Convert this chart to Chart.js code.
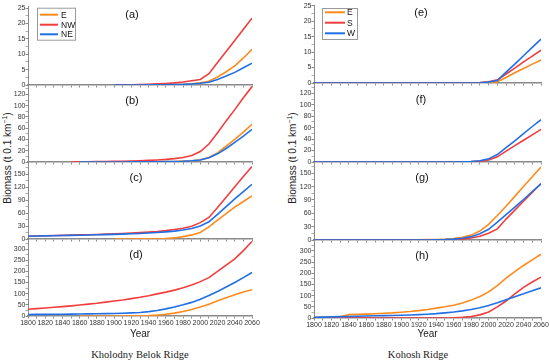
<!DOCTYPE html>
<html>
<head>
<meta charset="utf-8">
<script src="https://cdn.jsdelivr.net/npm/chart.js@4.4.0/dist/chart.umd.min.js"></script>
<style>
body { margin: 0; background: #fff; width: 550px; height: 363px; overflow: hidden; position: relative; font-family: Arial, "Liberation Sans", sans-serif; }
canvas { position: absolute; }
.ytitle { position: absolute; transform: translate(-50%, -50%) rotate(-90deg); font-size: 10px; white-space: nowrap; color: #222; }
.ridge { position: absolute; transform: translateX(-50%); top: 349px; font-family: "Liberation Serif", serif; font-size: 10.5px; white-space: nowrap; color: #222; }
</style>
</head>
<body>
<div class="ytitle" style="left:7px;top:158px">Biomass (t 0.1 km<sup style="font-size:7px">−1</sup>)</div>
<div class="ytitle" style="left:292px;top:158px">Biomass (t 0.1 km<sup style="font-size:7px">−1</sup>)</div>
<div class="ridge" style="left:140px">Kholodny Belok Ridge</div>
<div class="ridge" style="left:418px">Kohosh Ridge</div>
<script>
// years of the simulated series (10 year step)
const years = [1800, 1810, 1820, 1830, 1840, 1850, 1860, 1870, 1880, 1890,
               1900, 1910, 1920, 1930, 1940, 1950, 1960, 1970, 1980, 1990,
               2000, 2010, 2020, 2030, 2040, 2050, 2060];
const yearLabels = [1800, 1820, 1840, 1860, 1880, 1900, 1920, 1940, 1960, 1980, 2000, 2020, 2040, 2060];

const ticks25 = [0, 5, 10, 15, 20, 25];
const ticks120 = [0, 20, 40, 60, 80, 100, 120];
const ticks150 = [0, 30, 60, 90, 120, 150];
const ticks300 = [0, 50, 100, 150, 200, 250, 300];

// Kholodny Belok Ridge
const aE  = [null, null, null, null, null, null, null, null, null, null, 0, 0, 0, 0, 0, 0.05, 0.1, 0.15, 0.25, 0.4, 0.7, 1.2, 2.6, 4.3, 6.2, 8.8, 11.6];
const aNW = [null, null, null, null, null, null, null, null, null, null, 0, 0.05, 0.1, 0.15, 0.25, 0.35, 0.5, 0.7, 1.0, 1.4, 1.8, 3.7, 7.3, 10.9, 14.5, 18.1, 21.7];
const aNE = [null, null, null, null, null, null, null, null, null, null, 0, 0, 0, 0.02, 0.03, 0.05, 0.08, 0.12, 0.2, 0.35, 0.55, 0.9, 1.8, 2.9, 4.1, 5.6, 7.1];

const bE  = [null, null, null, null, null, null, 0, 0, 0, 0.05, 0.1, 0.15, 0.2, 0.3, 0.4, 0.5, 0.7, 1.0, 1.5, 2.3, 4, 8, 16, 28, 40, 53, 67];
const bNW = [null, null, null, null, null, 0, 0.2, 0.4, 0.6, 0.8, 1.1, 1.4, 1.8, 2.3, 2.9, 3.6, 4.6, 6, 8, 11.5, 18.5, 32, 52, 73, 93, 114, 134];
const bNE = [null, null, null, null, null, null, 0, 0, 0, 0.05, 0.1, 0.13, 0.17, 0.25, 0.3, 0.4, 0.6, 0.9, 1.3, 2.1, 3.6, 7.5, 14.5, 24, 35, 46, 58];

const cE  = [null, null, null, null, null, null, null, null, null, null, 0, 0, 0.1, 0.2, 0.3, 0.5, 1, 2.5, 5.5, 9.5, 15, 28, 44, 59, 74, 87, 100];
const cNW = [6.5, 7, 7.5, 8, 8.5, 9, 9.5, 10, 10.6, 11.3, 12, 12.8, 13.7, 14.7, 16, 17.5, 19.5, 22, 25, 29.5, 38, 50, 73, 97, 121, 145, 168];
const cNE = [6.3, 6.8, 7.2, 7.6, 8, 8.4, 8.8, 9.2, 9.7, 10.2, 10.8, 11.4, 12.1, 12.9, 13.9, 15, 16.5, 18.3, 20.8, 24.5, 30, 40, 57, 75, 93, 110, 127];

const dE  = [null, null, null, null, null, null, 0, 0, 0, 0, 0, 0.2, 0.5, 1, 2, 4, 8, 13, 20, 29, 40, 53, 68, 82, 95, 108, 118];
const dNW = [30, 33, 36, 39, 42, 45.5, 49, 53, 57, 62, 67, 72, 78, 84, 91, 99, 107, 116, 127, 139, 154, 172, 200, 228, 256, 293, 334];
const dNE = [7, 7.2, 7.5, 7.8, 8.1, 8.5, 9, 9.5, 10, 10.7, 11.5, 12.5, 14, 16, 19.5, 25, 32, 40, 50, 61, 75, 92, 110, 130, 150, 172, 195];

// Kohosh Ridge
const eE = [0, 0, 0, 0, 0, 0, 0, 0, 0, 0, 0, 0, 0, 0, 0, 0, 0, 0, 0, 0, 0.2, 0.4, 1.8, 3.3, 4.7, 6.1, 7.4];
const eS = [0, 0, 0, 0, 0, 0, 0, 0, 0, 0, 0, 0, 0, 0, 0, 0, 0, 0, 0.05, 0.15, 0.4, 1.0, 2.9, 4.8, 6.8, 8.7, 10.6];
const eW = [0, 0, 0, 0, 0, 0, 0, 0, 0, 0, 0, 0, 0, 0, 0, 0, 0, 0, 0, 0.1, 0.3, 0.8, 3.5, 6.1, 8.8, 11.5, 14.2];

const fS = [0, 0, 0, 0, 0, 0, 0, 0, 0, 0, 0, 0, 0, 0, 0, 0, 0.1, 0.3, 0.7, 1.5, 3.5, 9, 19, 28.5, 38, 47.5, 57];
const fW = [0, 0, 0, 0, 0, 0, 0, 0, 0, 0, 0, 0, 0, 0, 0, 0, 0.1, 0.4, 1, 2.3, 5.5, 13, 25, 37, 49.5, 62, 74];

const gE = [0, 0, 0, 0, 0, 0, 0, 0, 0, 0, 0.2, 0.3, 0.5, 0.8, 1.2, 2, 3.5, 6, 11, 20, 35, 55, 76, 98, 120, 142, 164];
const gS = [0, 0, 0, 0, 0, 0, 0, 0, 0, 0, 0, 0, 0, 0, 0, 0.5, 1, 2, 4.5, 8.5, 15, 25, 47, 67, 87, 107, 127];
const gW = [0, 0, 0, 0, 0, 0, 0, 0, 0, 0, 0, 0, 0, 0, 0.5, 1, 2, 4, 7.5, 14, 24, 40, 57, 74, 91, 109, 126];

const hE = [3, 3.5, 4, 5, 15, 16, 17.5, 19, 21, 23, 26, 29, 33, 38, 44, 50, 57, 67, 80, 96, 117, 145, 178, 207, 235, 260, 285];
const hS = [0, 0, 0, 0, 0, 0, 0, 0, 0, 0, 0, 0, 0, 0, 0, 0, 1, 3, 7, 14, 27, 50, 76, 108, 137, 161, 183];
const hW = [3, 4, 5, 6, 7, 8, 9, 9.8, 10.6, 11.5, 12.5, 13.7, 15, 17, 19.5, 23, 27, 32, 38, 46, 56, 68, 82, 95, 108, 122, 135];

const ORANGE = '#ff8a1c';
const RED = '#f23d3d';
const BLUE = '#1f70e6';
const AXIS = '#8a8a8a';

function series(label, values, color, order) {
    return {
        label: label,
        data: years.map((x, i) => ({ x: x, y: values[i] })),
        borderColor: color,
        backgroundColor: color,
        borderWidth: 1.6,
        pointRadius: 0,
        tension: 0,
        order: order
    };
}

// panel letter + optional legend box, drawn relative to the plot area
const panelDeco = {
    id: 'panelDeco',
    afterDatasetsDraw(chart, args, opts) {
        const ctx = chart.ctx;
        const { left, top } = chart.chartArea;
        ctx.save();
        ctx.font = '11px Arial';
        ctx.fillStyle = '#111';
        ctx.textAlign = 'center';
        ctx.textBaseline = 'middle';
        ctx.fillText(opts.tag, left + opts.tagX, top + opts.tagY);
        if (opts.legend) {
            const L = opts.legend;
            ctx.fillStyle = '#fff';
            ctx.fillRect(left + L.x, top + L.y, L.w, L.h);
            ctx.strokeStyle = '#9a9a9a';
            ctx.lineWidth = 1;
            ctx.strokeRect(left + L.x + 0.5, top + L.y + 0.5, L.w, L.h);
            ctx.font = '8.5px Arial';
            ctx.textAlign = 'left';
            chart.data.datasets.forEach((ds, i) => {
                const y = top + L.rows[i];
                ctx.strokeStyle = ds.borderColor;
                ctx.lineWidth = 2;
                ctx.beginPath();
                ctx.moveTo(left + L.x1, y);
                ctx.lineTo(left + L.x2, y);
                ctx.stroke();
                ctx.fillStyle = '#111';
                ctx.fillText(ds.label, left + L.tx, y + 0.5);
            });
        }
        ctx.restore();
    }
};

function makePanel(p) {
    const padTop = 6;
    const xH = p.bottom ? 340 - p.plotBottom : 4;
    const padBottom = p.bottom ? 0 : 6;
    const h = Math.round(padTop + (p.plotBottom - p.plotTop) + xH + padBottom);
    const canvas = document.createElement('canvas');
    canvas.width = p.width;
    canvas.height = h;
    canvas.style.left = p.left + 'px';
    canvas.style.top = (p.plotTop - padTop) + 'px';
    document.body.appendChild(canvas);

    const minor = [];
    for (let i = 0; i < p.yTicks.length; i++) {
        minor.push(p.yTicks[i]);
        const step = p.yTicks[1] - p.yTicks[0];
        if (p.yTicks[i] + step / 2 <= p.yMax) minor.push(p.yTicks[i] + step / 2);
    }

    new Chart(canvas, {
        type: 'line',
        data: { datasets: p.datasets },
        plugins: [panelDeco],
        options: {
            responsive: false,
            devicePixelRatio: 1,
            animation: false,
            events: [],
            layout: { padding: { top: padTop, bottom: padBottom, left: 0, right: p.padRight } },
            scales: {
                x: {
                    type: 'linear',
                    min: 1800,
                    max: 2060,
                    afterBuildTicks: s => { s.ticks = years.map(v => ({ value: v })); },
                    afterFit: s => { s.height = xH; },
                    ticks: {
                        display: p.bottom,
                        autoSkip: false,
                        maxRotation: 0,
                        padding: 0,
                        font: { size: 7, family: 'Arial' },
                        color: '#333',
                        callback: v => yearLabels.includes(v) ? String(v) : ''
                    },
                    grid: { drawOnChartArea: false, tickLength: 2.5, color: AXIS },
                    border: { color: AXIS, width: 1.6 },
                    title: { display: p.bottom, text: 'Year', font: { size: 10, family: 'Arial' }, color: '#222', padding: 0 }
                },
                y: {
                    type: 'linear',
                    min: 0,
                    max: p.yMax,
                    afterBuildTicks: s => { s.ticks = minor.map(v => ({ value: v })); },
                    afterFit: s => { s.width = 28; },
                    ticks: {
                        autoSkip: false,
                        padding: 0,
                        font: { size: 7, family: 'Arial' },
                        color: '#333',
                        callback: v => p.yTicks.includes(v) ? String(v) : ''
                    },
                    grid: {
                        drawOnChartArea: false,
                        tickLength: 2.5,
                        color: AXIS,
                        tickWidth: c => (c.tick && p.yTicks.includes(c.tick.value)) ? 1 : 0.7
                    },
                    border: { color: AXIS, width: 1 }
                }
            },
            plugins: {
                legend: { display: false },
                tooltip: { enabled: false },
                panelDeco: { tag: p.tag, tagX: p.tagX, tagY: p.tagY, legend: p.legend }
            }
        }
    });
}

const left = { left: 0, width: 262, padRight: 10 };
const right = { left: 286, width: 264, padRight: 9 };

makePanel({ ...left, plotTop: 6, plotBottom: 84.7, yMax: 25.7, yTicks: ticks25, tag: '(a)', tagX: 104, tagY: 9,
    legend: { x: 9, y: 1.7, w: 38, h: 32, rows: [8.7, 18.7, 28.3], x1: 12, x2: 30, tx: 33 },
    datasets: [series('E', aE, ORANGE, 2), series('NW', aNW, RED, 1), series('NE', aNE, BLUE, 0)] });
makePanel({ ...left, plotTop: 86, plotBottom: 162.3, yMax: 135, yTicks: ticks120, tag: '(b)', tagX: 104, tagY: 15,
    datasets: [series('E', bE, ORANGE, 2), series('NW', bNW, RED, 1), series('NE', bNE, BLUE, 0)] });
makePanel({ ...left, plotTop: 164, plotBottom: 239, yMax: 174, yTicks: ticks150, tag: '(c)', tagX: 108, tagY: 14,
    datasets: [series('E', cE, ORANGE, 2), series('NW', cNW, RED, 1), series('NE', cNE, BLUE, 0)] });
makePanel({ ...left, plotTop: 241, plotBottom: 316, yMax: 336, yTicks: ticks300, tag: '(d)', tagX: 108, tagY: 14, bottom: true,
    datasets: [series('E', dE, ORANGE, 2), series('NW', dNW, RED, 1), series('NE', dNE, BLUE, 0)] });

makePanel({ ...right, plotTop: 5, plotBottom: 83, yMax: 25.2, yTicks: ticks25, tag: '(e)', tagX: 107, tagY: 8,
    legend: { x: 8, y: 3, w: 35, h: 31, rows: [7.3, 17.7, 28.3], x1: 11, x2: 31, tx: 33 },
    datasets: [series('E', eE, ORANGE, 2), series('S', eS, RED, 1), series('W', eW, BLUE, 0)] });
makePanel({ ...right, plotTop: 85, plotBottom: 161.7, yMax: 134.5, yTicks: ticks120, tag: '(f)', tagX: 107, tagY: 15,
    datasets: [series('S', fS, RED, 1), series('W', fW, BLUE, 0)] });
makePanel({ ...right, plotTop: 163, plotBottom: 240, yMax: 173, yTicks: ticks150, tag: '(g)', tagX: 108, tagY: 15,
    datasets: [series('E', gE, ORANGE, 2), series('S', gS, RED, 1), series('W', gW, BLUE, 0)] });
makePanel({ ...right, plotTop: 242, plotBottom: 318, yMax: 340, yTicks: ticks300, tag: '(h)', tagX: 108, tagY: 14, bottom: true,
    datasets: [series('E', hE, ORANGE, 2), series('S', hS, RED, 1), series('W', hW, BLUE, 0)] });
</script>
</body>
</html>
